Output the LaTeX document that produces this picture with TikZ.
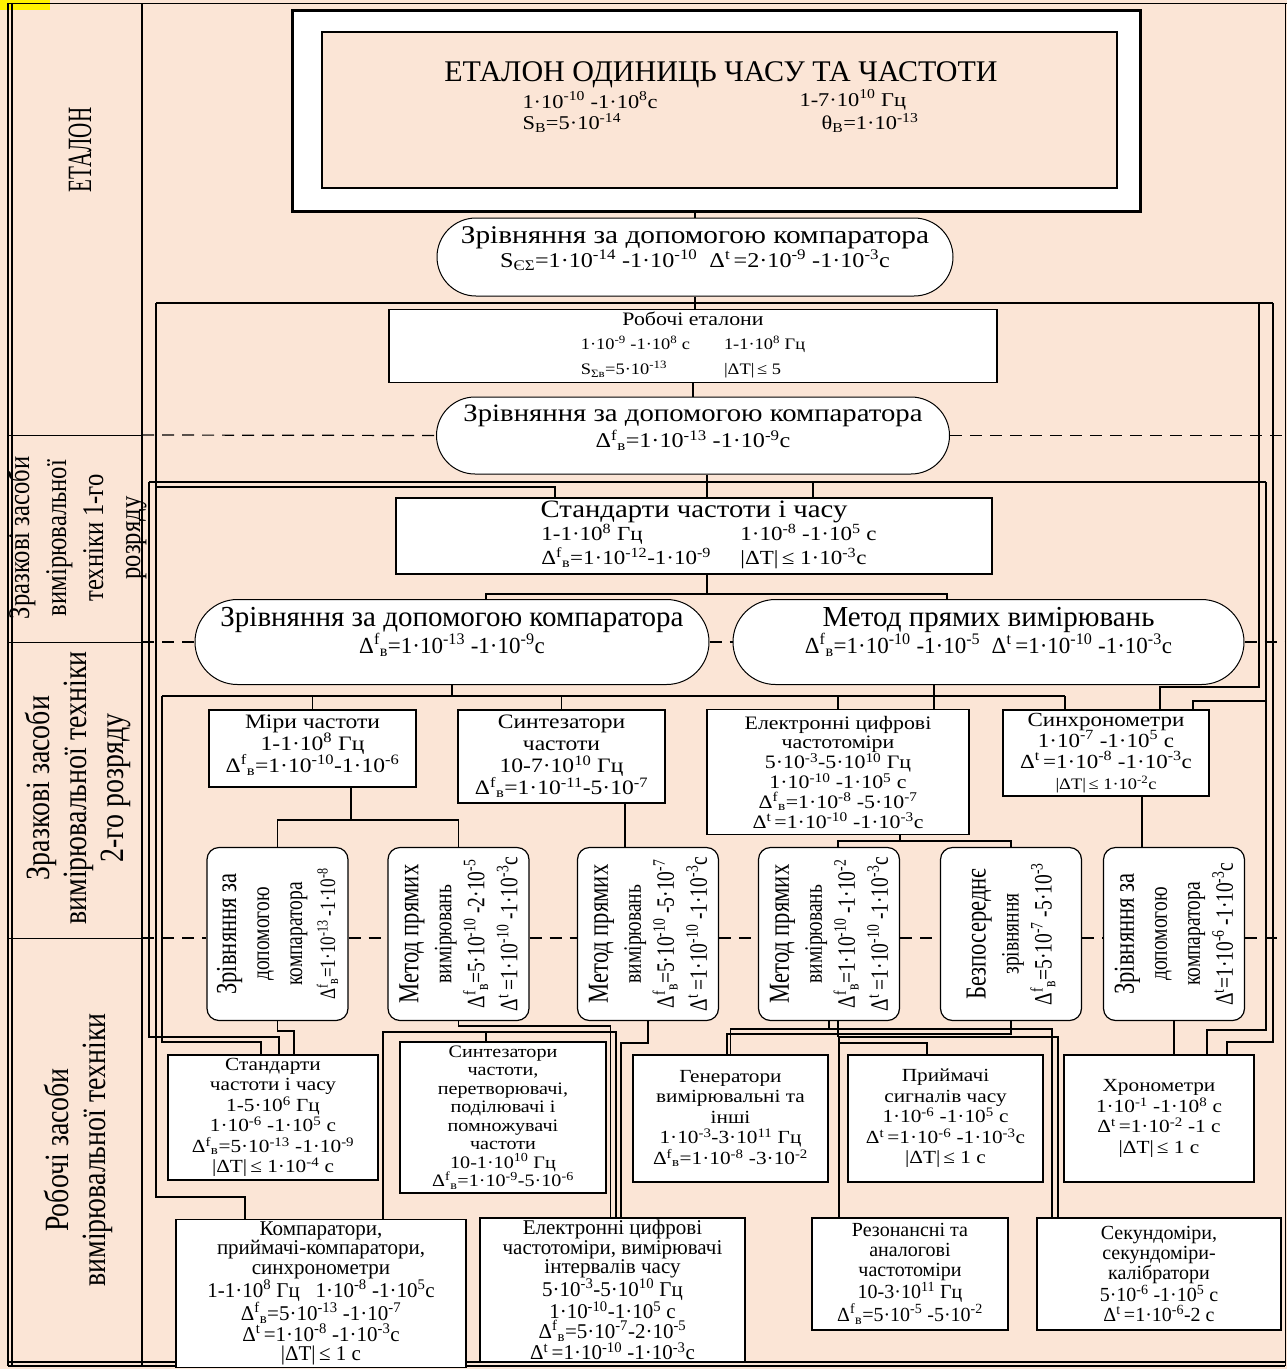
\documentclass[tikz,border=0pt]{standalone}
\usepackage{fontspec}
\setmainfont{Liberation Serif}
\newfontfamily\nrw[FakeStretch=0.78]{Liberation Serif}
\newfontfamily\nrwx[FakeStretch=0.62]{Liberation Serif}
\newfontfamily\nrwl[FakeStretch=0.82]{Liberation Serif}
\newfontfamily\wde[FakeStretch=1.15]{Liberation Serif}
\usetikzlibrary{positioning,shapes.misc}
\definecolor{peach}{HTML}{FBE5D6}
\newcommand\fs[2]{\fontsize{#1}{#2}\selectfont}
\newcommand\pw[1]{\textsuperscript{#1}}
\newcommand\dfv{Δ\textsuperscript{f}\textsubscript{в}}
\newcommand\dlt{Δ\textsuperscript{t}}
\newcommand\absT{|ΔT|}
\newcommand\dn[1]{\rule[-#1]{0pt}{#1}}
\tikzset{
  plainbox/.style={draw, line width=1.2pt, fill=white, align=center, inner sep=2pt},
  stadium/.style={draw, line width=1pt, fill=white, rounded rectangle, align=center, inner sep=2pt},
  vbox/.style={draw, line width=1.2pt, fill=white, rounded corners=12pt, rotate=90, align=center,
    minimum width=173pt, minimum height=141pt, inner sep=2pt, font=\nrw\fs{25}{33}},
  link/.style={line width=1.3pt},
  tierline/.style={line width=1.2pt, dash pattern=on 12pt off 8pt},
  sidetext/.style={rotate=90, align=center, font=\nrwl\fs{34}{37}},
}
\begin{document}
\begin{tikzpicture}[x=1pt,y=-1pt]
    \fill[peach] (0,0) rectangle (1287,1369);
    \useasboundingbox (0,0) rectangle (1287,1369);
    \fill[yellow] (0,0) rectangle (50,10);

    % frame and levels
    \draw[line width=1pt] (8,3) -- (1287,3);
    \draw[line width=1.2pt] (8,3) -- (8,1366) (12,3) -- (12,1366);
    \draw[line width=1.2pt] (8,1362) -- (1285,1362) (8,1366) -- (1285,1366);
    \draw[line width=1pt] (1285,3) -- (1285,1366);
    \draw[line width=1.6pt] (142,3) -- (142,1366);
    \draw[line width=1pt] (8,435) -- (142,435) (8,642) -- (142,642) (8,938) -- (142,938);

    \node[sidetext, font=\nrwx\fs{34}{37}] (labEt) at (80,150) {ЕТАЛОН};
    \node[sidetext, font=\nrwl\fs{30}{37}] (labOne) at (77,538) {Зразкові засоби\\вимірювальної\\техніки 1-го\\розряду};
    \node[sidetext] (labTwo) at (78,788) {Зразкові засоби\\вимірювальної техніки\\2-го розряду};
    \node[sidetext] (labWork) at (78,1150) {Робочі засоби\\вимірювальної техніки};

    % etalon
    \node[draw, line width=3pt, fill=white, minimum width=848pt, minimum height=201pt] (etalonframe) at (716,110.5) {};
    \node[draw, line width=1.5pt, fill=peach, minimum width=795pt, minimum height=156pt] (etalon) at (719.5,110) {};
    \node[font=\fs{30}{32}] (etTitle) at (721,75) {ЕТАЛОН ОДИНИЦЬ ЧАСУ ТА ЧАСТОТИ};
    \node[anchor=west, font=\wde\fs{19.5}{22}] (etTime) at (519,100) {1·10\pw{-10} -1·10\pw{8}с};
    \node[anchor=west, font=\wde\fs{19.5}{22}] (etFreq) at (796,100) {1-7·10\pw{10} Гц};
    \node[anchor=west, font=\wde\fs{19.5}{22}] (etS) at (519,123) {S\textsubscript{В}=5·10\pw{-14}};
    \node[anchor=west, font=\wde\fs{19.5}{22}] (etQ) at (818,123) {θ\textsubscript{В}=1·10\pw{-13}};

    \node[stadium, minimum width=520pt, minimum height=78pt, font=\wde\fs{21}{24}] (cmp1) at (695,257)
        {{\fs{25.5}{28}Зрівняння за допомогою компаратора}\\S\textsubscript{ЄΣ}=1·10\pw{-14} -1·10\pw{-10}\ \ \dlt\,=2·10\pw{-9} -1·10\pw{-3}с\dn{20pt}};

    \node[plainbox, minimum width=608pt, minimum height=70pt, font=\wde\fs{16}{20}] (robe) at (693,346)
        {\begin{tabular}{@{}l@{\hspace{34pt}}l@{}}
         \multicolumn{2}{c}{\fs{19}{20}Робочі еталони}\\[4pt]
         1·10\pw{-9} -1·10\pw{8} с & 1-1·10\pw{8} Гц\\[5pt]
         S\textsubscript{Σв}=5·10\pw{-13} & \absT\,≤ 5\end{tabular}};

    \node[stadium, minimum width=517pt, minimum height=77pt, font=\wde\fs{21}{26}] (cmp2) at (693,435.5)
        {{\fs{25}{28}Зрівняння за допомогою компаратора}\\\dfv=1·10\pw{-13} -1·10\pw{-9}с\dn{18pt}};

    \node[plainbox, minimum width=596pt, minimum height=76pt, font=\wde\fs{20}{22}] (std) at (694,536)
        {{\fs{25}{28}Стандарти частоти і часу}\\
         \hspace*{30pt}\begin{tabular}{@{}p{199pt}@{}l@{}}1-1·10\pw{8} Гц & 1·10\pw{-8} -1·10\pw{5} с\\
         \dfv=1·10\pw{-12}-1·10\pw{-9} & \absT\,≤ 1·10\pw{-3}с\end{tabular}};

    \node[stadium, minimum width=518pt, minimum height=85pt, font=\fs{23}{27}] (cmp3) at (452,642)
        {{\fs{29}{30}Зрівняння за допомогою компаратора}\\\dfv=1·10\pw{-13} -1·10\pw{-9}с\dn{24pt}};
    \node[stadium, minimum width=515pt, minimum height=85pt, font=\fs{23}{27}] (direct) at (988.5,642)
        {{\fs{29}{30}Метод прямих вимірювань}\\\dfv=1·10\pw{-10} -1·10\pw{-5}\ \ \dlt\,=1·10\pw{-10} -1·10\pw{-3}с\dn{24pt}};

    % first row of instruments
    \node[plainbox, minimum width=207pt, minimum height=77pt, font=\wde\fs{20.5}{22}] (miry) at (312.5,748.5)
        {Міри частоти\\1-1·10\pw{8} Гц\\\dfv=1·10\pw{-10}-1·10\pw{-6}\dn{10pt}};
    \node[plainbox, minimum width=207pt, minimum height=93pt, font=\wde\fs{20.5}{22}] (synt) at (561.5,756.5)
        {Синтезатори\\частоти\\10-7·10\pw{10} Гц\\\dfv=1·10\pw{-11}-5·10\pw{-7}};
    \node[plainbox, minimum width=262pt, minimum height=125pt, inner ysep=3pt, font=\wde\fs{19}{19.8}] (ecf) at (838,772)
        {Електронні цифрові\\частотоміри\\5·10\pw{-3}-5·10\pw{10} Гц\\1·10\pw{-10} -1·10\pw{5} с\\\dfv=1·10\pw{-8} -5·10\pw{-7}\\\dlt\,=1·10\pw{-10} -1·10\pw{-3}с};
    \node[plainbox, minimum width=206pt, minimum height=86pt, font=\wde\fs{20}{21}] (sync) at (1106,753)
        {Синхронометри\\1·10\pw{-7} -1·10\pw{5} с\\\dlt\,=1·10\pw{-8} -1·10\pw{-3}с\\{\fs{16}{21}\absT\,≤ 1·10\pw{-2}с}};

    % methods of the second level
    \node[vbox] (r1) at (277.5,934) {{\fs{29}{33}Зрівняння за}\\допомогою\\компаратора\\{\fs{22}{26}\dfv=1·10\pw{-13} -1·10\pw{-8}}};
    \node[vbox] (r2) at (458.5,934) {{\fs{29}{33}Метод прямих}\\вимірювань\\\dfv=5·10\pw{-10} -2·10\pw{-5}\\\dlt\,=1·10\pw{-10} -1·10\pw{-3}с};
    \node[vbox] (r3) at (648,934) {{\fs{29}{33}Метод прямих}\\вимірювань\\\dfv=5·10\pw{-10} -5·10\pw{-7}\\\dlt\,=1·10\pw{-10} -1·10\pw{-3}с};
    \node[vbox] (r4) at (829,934) {{\fs{29}{33}Метод прямих}\\вимірювань\\\dfv=1·10\pw{-10} -1·10\pw{-2}\\\dlt\,=1·10\pw{-10} -1·10\pw{-3}с};
    \node[vbox] (r5) at (1011,934) {{\fs{29}{33}Безпосереднє}\\зрівняння\\\dfv=5·10\pw{-7} -5·10\pw{-3}};
    \node[vbox] (r6) at (1174,934) {{\fs{29}{33}Зрівняння за}\\допомогою\\компаратора\\\dlt=1·10\pw{-6} -1·10\pw{-3}с};

    % working instruments
    \node[plainbox, minimum width=210pt, minimum height=125pt, font=\wde\fs{18.5}{20.5}] (std2) at (273,1117.5)
        {Стандарти\\частоти і часу\\1-5·10\pw{6} Гц\\1·10\pw{-6} -1·10\pw{5} с\\\dfv=5·10\pw{-13} -1·10\pw{-9}\\\absT\,≤ 1·10\pw{-4} с};
    \node[plainbox, minimum width=206pt, minimum height=151pt, font=\wde\fs{17.5}{18.5}] (synt2) at (503,1117.5)
        {Синтезатори\\частоти,\\перетворювачі,\\поділювачі і\\помножувачі\\частоти\\10-1·10\pw{10} Гц\\\dfv=1·10\pw{-9}-5·10\pw{-6}};
    \node[plainbox, minimum width=195pt, minimum height=127pt, font=\wde\fs{18.5}{20.5}] (gen) at (730.5,1118.5)
        {Генератори\\вимірювальні та\\інші\\1·10\pw{-3}-3·10\pw{11} Гц\\\dfv=1·10\pw{-8} -3·10\pw{-2}};
    \node[plainbox, minimum width=195pt, minimum height=127pt, font=\wde\fs{18.5}{20.5}] (recv) at (945.5,1118.5)
        {Приймачі\\сигналів часу\\1·10\pw{-6} -1·10\pw{5} с\\\dlt\,=1·10\pw{-6} -1·10\pw{-3}с\\\absT\,≤ 1 с};
    \node[plainbox, minimum width=190pt, minimum height=127pt, font=\wde\fs{18.5}{20.5}] (chron) at (1159,1118.5)
        {Хронометри\\1·10\pw{-1} -1·10\pw{8} с\\\dlt\,=1·10\pw{-2} -1 с\\\absT\,≤ 1 с};

    \node[plainbox, minimum width=290pt, minimum height=137pt, font=\fs{21}{19.5}] (comp) at (321,1293.5)
        {Компаратори,\\приймачі-компаратори,\\синхронометри\\1-1·10\pw{8} Гц\ \ \ 1·10\pw{-8} -1·10\pw{5}с\\\dfv=5·10\pw{-13} -1·10\pw{-7}\\\dlt\,=1·10\pw{-8} -1·10\pw{-3}с\\\absT\,≤ 1 с};
    \node[plainbox, minimum width=265pt, minimum height=144pt, font=\fs{21}{19.5}] (elec) at (612.5,1290)
        {Електронні цифрові\\частотоміри, вимірювачі\\інтервалів часу\\5·10\pw{-3}-5·10\pw{10} Гц\\1·10\pw{-10}-1·10\pw{5} с\\\dfv=5·10\pw{-7}-2·10\pw{-5}\\\dlt\,=1·10\pw{-10} -1·10\pw{-3}с};
    \node[plainbox, minimum width=196pt, minimum height=112pt, font=\fs{20}{20}] (res) at (910,1274)
        {Резонансні та\\аналогові\\частотоміри\\10-3·10\pw{11} Гц\\\dfv=5·10\pw{-5} -5·10\pw{-2}};
    \node[plainbox, minimum width=244pt, minimum height=112pt, font=\fs{20}{20}] (sec) at (1159,1274)
        {Секундоміри,\\секундоміри-\\калібратори\\5·10\pw{-6} -1·10\pw{5} с\\\dlt\,=1·10\pw{-6}-2 с};

    % level borders
    \coordinate (tOne) at (142,435);
    \coordinate (tTwo) at (142,642);
    \coordinate (tThree) at (142,938);
    \coordinate (rim) at (1285,0);
    \draw[tierline] (tOne) -- (cmp2.west);
    \draw[tierline] (cmp2.east) -- (cmp2.east -| rim);
    \draw[tierline] (tTwo) -- (cmp3.west);
    \draw[tierline] (cmp3.east) -- (direct.west);
    \draw[tierline] (direct.east) -- (direct.east -| rim);
    \draw[tierline] (tThree) -- (r1.north |- tThree);
    \draw[tierline] (r1.south |- tThree) -- (r2.north |- tThree);
    \draw[tierline] (r2.south |- tThree) -- (r3.north |- tThree);
    \draw[tierline] (r3.south |- tThree) -- (r4.north |- tThree);
    \draw[tierline] (r4.south |- tThree) -- (r5.north |- tThree);
    \draw[tierline] (r5.south |- tThree) -- (r6.north |- tThree);
    \draw[tierline] (r6.south |- tThree) -- (rim |- tThree);

    % upper chain
    \coordinate (busOneW) at (156,303);
    \coordinate (busOneR) at (1259,303);
    \coordinate (busOneE) at (1273,303);
    \coordinate (busTwoW) at (149,482);
    \coordinate (busTwoE) at (1266,482);
    \coordinate (stdDrop) at (813,482);
    \coordinate (busThree) at (707,594);
    \coordinate (busFourW) at (162,696);
    \coordinate (busFourE) at (1065,696);
    \draw[link] (cmp1.north) -- (cmp1.north |- etalonframe.south);
    \draw[link] (cmp1.south) -- (cmp1.south |- robe.north);
    \draw[link] (busOneW) -- (busOneE);
    \draw[link] (robe.south) -- (robe.south |- cmp2.north);
    \draw[link] (busTwoW) -- (busTwoE);
    \draw[link] ([xshift=14pt]cmp2.south) -- ([xshift=14pt]cmp2.south |- std.north);
    \draw[link] (stdDrop) -- (stdDrop |- std.north);
    \draw[link] ([xshift=13pt]std.south) -- (busThree);
    \draw[link] ([xshift=34pt]cmp3.north) |- (busThree) -| ([xshift=-41.5pt]direct.north);
    \draw[link] (busFourW) -- (busFourE);
    \draw[link] (cmp3.south) -- (cmp3.south |- busFourW);
    \draw[link] ([xshift=-54.5pt]direct.south) -- ([xshift=-54.5pt]direct.south |- ecf.north);
    \draw[link] (miry.north) -- (miry.north |- busFourW);
    \draw[link] (synt.north) -- (synt.north |- busFourW);
    \draw[link] (ecf.north) -- (ecf.north |- busFourW);
    \draw[link] ([xshift=-41pt]sync.north) -- ([xshift=-41pt]sync.north |- busFourW);

    % long side lines
    \coordinate (kStd) at (156,487);
    \coordinate (kComp) at (156,1197);
    \coordinate (kStdA) at (149,1037);
    \coordinate (kStdB) at (162,1042);
    \draw[link] (kStd) -| ([xshift=-139pt]std.north);
    \draw[link] (busOneW) -- (kComp) -| ([xshift=-76pt]comp.north);
    \draw[link] (busTwoW) -- (kStdA) -| ([xshift=6pt]std2.north);
    \draw[link] (busFourW) -- (kStdB) -| ([xshift=-12pt]std2.north);
    \coordinate (kSyncA) at (1259,687);
    \coordinate (kSyncB) at (1266,701);
    \coordinate (kChronA) at (1266,1030);
    \coordinate (kChronB) at (1273,1042);
    \draw[link] (busOneR) -- (kSyncA) -| ([xshift=54pt]sync.north);
    \draw[link] (busTwoE) -- (kSyncB) -| ([xshift=87pt]sync.north);
    \draw[link] (kSyncB) -- (kChronA) -| ([xshift=48pt]chron.north);
    \draw[link] (busOneE) -- (kChronB) -| ([xshift=68pt]chron.north);

    % instruments to methods
    \coordinate (kMiry) at (351,820);
    \coordinate (kEcf) at (900,841);
    \draw[link] ([xshift=38.5pt]miry.south) -- (kMiry);
    \draw[link] (r1.east) |- (kMiry) -| (r2.east);
    \draw[link] ([xshift=63.5pt]synt.south) -- ([xshift=-23pt]r3.east);
    \draw[link] ([xshift=62pt]ecf.south) -- (kEcf);
    \draw[link] ([xshift=9pt]r4.east) |- (kEcf) -| (r5.east);
    \draw[link] ([xshift=36pt]sync.south) -- ([xshift=-32pt]r6.east);

    % methods to working instruments
    \coordinate (kWork) at (383,1032);
    \coordinate (kGen) at (730,1029);
    \coordinate (kRes) at (838,1037);
    \coordinate (kRecv) at (838,1043);
    \draw[link] (r1.west) -- ++(0,10) -| ([xshift=21pt]std2.north);
    \draw[link] (r2.west) -- ++(0,5) -| ([xshift=-2pt]elec.north);
    \draw[link] ([xshift=62pt]comp.north) -- (kWork) -| ([xshift=3.5pt]elec.north);
    \draw[link] ([xshift=-17pt]synt2.north) -- ([xshift=-17pt]synt2.north |- kWork);
    \draw[link] (r3.west) -- ++(0,22) -| ([xshift=8.5pt]elec.north);
    \draw[link] (r5.west) -- ++(0,13) -| ([xshift=-3.5pt]gen.north);
    \draw[link] (r4.west) -- (r4.west |- kGen);
    \draw[link] (gen.north) |- (kGen) -| ([xshift=-107pt]sec.north);
    \draw[link] ([xshift=-71pt]res.north) |- (kRes) -| ([xshift=-101pt]sec.north);
    \draw[link] ([xshift=9pt]r4.west) -- ([xshift=9pt]r4.west |- kRes);
    \draw[link] (kRecv) -| ([xshift=-18.5pt]recv.north);
    \draw[link] (r6.west) -- ([xshift=15pt]chron.north);
\end{tikzpicture}
\end{document}
